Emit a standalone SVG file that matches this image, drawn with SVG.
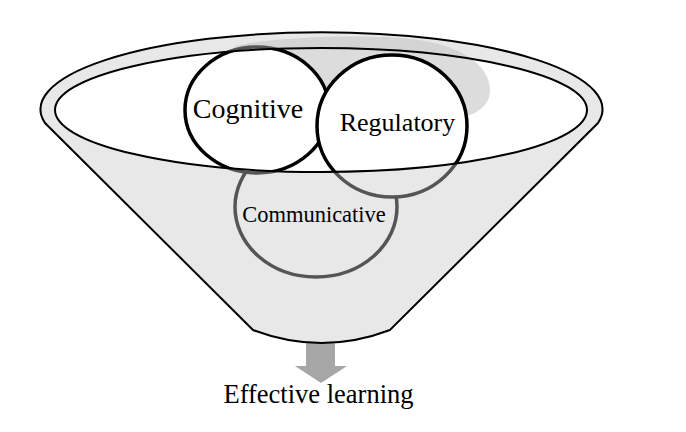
<svg xmlns="http://www.w3.org/2000/svg" width="686" height="432" viewBox="0 0 686 432">
  <defs>
    <style>
      .lbl { font-family: "Liberation Serif", "Times New Roman", serif; fill: #000; text-anchor: middle; }
      .circ { fill: #fff; stroke: #000; stroke-width: 3.5; }
      .line { fill: none; stroke: #000; stroke-width: 2; }
    </style>
    <path id="funnelShape" d="M 253,330 L 45,123 A 281,77 0 1 1 598,123 L 390,330 Q 321.5,356 253,330 Z"/>
    <path id="innerShape" d="M 55,110 A 266,62 0 1 0 587,110 A 266,62 0 1 0 55,110 Z"/>
  </defs>
  <rect width="686" height="432" fill="#fff"/>

  <g id="connectors">
    <path id="arrow-effective" d="M 306,336 L 335,336 L 335,366 L 347,366 L 321,383 L 295,366 L 306,366 Z" fill="#a6a6a6"/>
  </g>

  <g id="funnel">
    <use href="#funnelShape" fill="#fff"/>
  </g>

  <g id="node-communicative">
    <ellipse cx="316" cy="207" rx="81" ry="70" fill="none" stroke="#000" stroke-width="3.5"/>
  </g>

  <g id="funnel-mouth">
    <use href="#innerShape" fill="#fff"/>
    <path id="shadow" d="M 235,46 C 280,36 360,35 400,38 C 460,42 490,65 490,90 C 490,105 478,114 462,117 L 300,150 L 240,60 Z" fill="#dcdcdc"/>
  </g>

  <g id="node-cognitive">
    <ellipse class="circ" cx="257" cy="110" rx="72" ry="63"/>
  </g>

  <g id="node-regulatory">
    <ellipse class="circ" cx="392" cy="126" rx="75" ry="71"/>
  </g>

  <g id="funnel-body">
    <path d="M 253,330 L 45,123 A 281,77 0 1 1 598,123 L 390,330 Q 321.5,356 253,330 Z M 55,110 A 266,62 0 1 0 587,110 A 266,62 0 1 0 55,110 Z" fill="#c9c9c9" fill-opacity="0.423" fill-rule="evenodd"/>
    <use href="#funnelShape" class="line"/>
    <use href="#innerShape" class="line"/>
  </g>

  <g id="labels">
    <text class="lbl" x="248" y="118" font-size="28">Cognitive</text>
    <text class="lbl" x="397.5" y="131" font-size="26">Regulatory</text>
    <text class="lbl" x="314" y="222" font-size="22.5">Communicative</text>
  </g>

  <g id="node-effective-learning">
    <text class="lbl" x="318.5" y="403" font-size="26.5">Effective learning</text>
  </g>
</svg>
